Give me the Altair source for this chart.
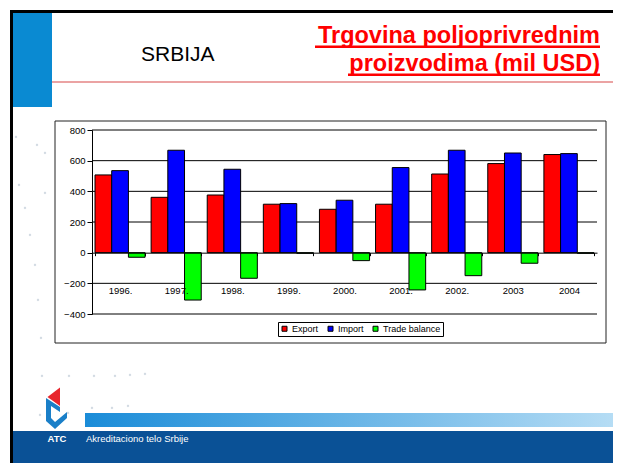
import altair as alt
import pandas as pd

# ---- data ----
years = ["1996.", "1997.", "1998.", "1999.", "2000.", "2001.", "2002.", "2003", "2004"]
export_vals = [507, 361, 376, 316, 283, 316, 513, 581, 640]
import_vals = [535, 668, 544, 320, 342, 555, 668, 650, 646]
balance_vals = [-30, -309, -167, -4, -52, -243, -150, -69, -4]
series_names = ["Export", "Import", "Trade balance"]
series_colors = ["#ff0000", "#0000ff", "#00ff00"]
y_ticks = [-400, -200, 0, 200, 400, 600, 800]
grid_vals = [-400, -200, 200, 400, 600, 800]

rows = []
for i, yr in enumerate(years):
    for name, vals in zip(series_names, [export_vals, import_vals, balance_vals]):
        rows.append({"year": yr, "series": name, "value": vals[i]})
df = pd.DataFrame(rows)

W, H = 505, 184
FONT = "Liberation Sans"
one = pd.DataFrame({"k": [0]})


def rect(x, x2, y, y2, **kw):
    return alt.Chart(one).mark_rect(**kw).encode(
        x=alt.value(x), x2=alt.value(x2), y=alt.value(y), y2=alt.value(y2))


def text(t, x, y, **kw):
    return alt.Chart(one).mark_text(text=t, font=FONT, baseline="alphabetic", **kw).encode(
        x=alt.value(x), y=alt.value(y))


def symbol(path, x, y, color, opacity=1.0):
    return alt.Chart(one).mark_point(shape=path, size=4, filled=True, color=color,
                                     opacity=opacity, strokeWidth=0).encode(
        x=alt.value(x), y=alt.value(y))


y_scale = alt.Scale(domain=[-400, 800], nice=False, zero=False)
y_axis = alt.Axis(title=None, values=y_ticks, grid=False, domainColor="black",
                  tickColor="black", tickSize=5, labelPadding=2, labelFont=FONT,
                  labelFontSize=9.5, labelColor="black", labelOverlap=False, zindex=1)

RIGHT = 530  # slide content runs to the right edge of the drawing

# ---- slide decoration ----
slide = rect(-80.5, 540, -118.5, 360, fill="white", stroke="black", strokeWidth=3)

dots_path = ""
for dx, dy in [(16, 137), (37, 145), (45, 153), (19, 185), (45, 193), (25, 208), (30, 235),
               (35, 265), (38, 300), (41, 338), (42, 376), (69, 376), (94, 376), (115, 376),
               (130, 375), (145, 374), (40, 415), (68, 413), (92, 408), (112, 408), (128, 406)]:
    dots_path += f"M {dx - 1.2} {dy} a 1.2 1.2 0 1 0 2.4 0 a 1.2 1.2 0 1 0 -2.4 0 "
dots = symbol(dots_path, -92, -130, "#9db0c0", opacity=0.45)

blue_block = rect(-79, -40, -117, -23, fill="#0a8ad2")
red_line = alt.Chart(one).mark_rule(color="#e58585", strokeWidth=1.5).encode(
    x=alt.value(-40), x2=alt.value(RIGHT), y=alt.value(-48))

srbija = text("SRBIJA", 49, -69, fontSize=21, color="black", align="left")
title1 = text("Trgovina poljoprivrednim", 508, -86.7, fontSize=23.5, fontWeight="bold",
              color="#ff0000", align="right")
title2 = text("proizvodima (mil USD)", 508, -59, fontSize=23.5, fontWeight="bold",
              color="#ff0000", align="right")
ul1 = rect(223, 508, -84.5, -82, fill="#ff0000")
ul2 = rect(256, 508, -56.5, -54, fill="#ff0000")

chart_box = rect(-37, 514, -9, 213, fill="white", stroke="#222222", strokeWidth=1)

# ---- chart ----
grid = alt.Chart(pd.DataFrame({"value": grid_vals})).mark_rule(color="black", strokeWidth=1).encode(
    y=alt.Y("value:Q", scale=y_scale, axis=y_axis), x=alt.value(0), x2=alt.value(W))

bars = alt.Chart(df).mark_bar(stroke="black", strokeWidth=1).encode(
    x=alt.X("year:N", sort=years,
            scale=alt.Scale(paddingInner=0.107, paddingOuter=0.0535),
            axis=alt.Axis(title=None, labelAngle=0, offset=-61.33, domain=True,
                          domainColor="black", domainWidth=1, ticks=True, tickBand="extent",
                          tickSize=3, tickColor="black", labelPadding=30, labelFont=FONT,
                          labelFontSize=9.5, labelColor="black", grid=False, zindex=1)),
    xOffset=alt.XOffset("series:N", sort=series_names,
                        scale=alt.Scale(paddingInner=0, paddingOuter=0)),
    y=alt.Y("value:Q", scale=y_scale, axis=y_axis),
    color=alt.Color("series:N", sort=series_names,
                    scale=alt.Scale(domain=series_names, range=series_colors),
                    legend=alt.Legend(title=None, orient="none", legendX=186, legendY=192,
                                      direction="horizontal", strokeColor="black",
                                      fillColor="white", padding=2, symbolType="square",
                                      symbolSize=25, symbolStrokeColor="black",
                                      symbolStrokeWidth=1, symbolOpacity=1,
                                      labelFont=FONT, labelFontSize=9, labelColor="black",
                                      labelOffset=3, columnPadding=7)),
)

# ---- footer ----
grad_bar = rect(-7, RIGHT, 283, 297, fill={
    "gradient": "linear", "x1": 0, "x2": 1, "y1": 0, "y2": 0,
    "stops": [{"offset": 0, "color": "#1a8cd8"}, {"offset": 1, "color": "#b8def5"}]})
footer = rect(-79, RIGHT, 301, 340, fill="#0a5196")
atc = text("ATC", -44.5, 312, fontSize=9.5, fontWeight="bold", color="white", align="left")
akr = text("Akreditaciono telo Srbije", -6, 312, fontSize=9.5, color="white", align="left")
logo_red = symbol("M -9.5 -11 L 3 -20.5 L 3 -2 Z", -35, 278, "#e8262d")
logo_blue = symbol("M -11 -10 L 3 -1 L 3 4 L -6 -2 L -6 10 L -2 14 L 10 4 L 10 10 L -2 21 L -11 13 Z",
                   -35, 278, "#1a7fc8")

chart = alt.layer(
    slide, dots, blue_block, red_line, srbija, title1, title2, ul1, ul2, chart_box,
    grid, bars, grad_bar, footer, atc, akr, logo_red, logo_blue
).properties(
    width=W, height=H,
    autosize=alt.AutoSizeParams(type="none"),
    padding={"left": 84, "top": 122, "right": 16, "bottom": 149},
    background="white",
).configure_view(stroke=None)

chart.save("out.html", embed_options={"renderer": "svg", "actions": False})
